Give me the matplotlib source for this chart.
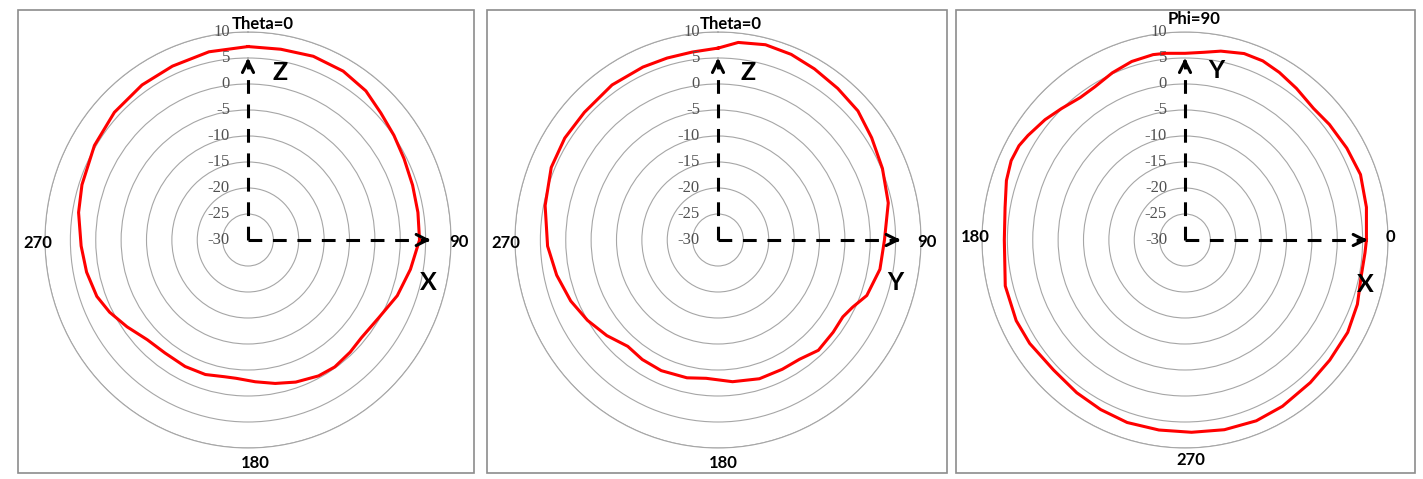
import matplotlib
matplotlib.use("Agg")
import matplotlib.pyplot as plt
from matplotlib.patches import Rectangle
from matplotlib.transforms import offset_copy
import numpy as np

W, H = 1423, 479

r_ticks = [-30, -25, -20, -15, -10, -5, 0, 5, 10]

# XZ面 (Theta=0, 上が0度, 時計回り)
xz_angle = [0, 10, 20, 30, 39, 47, 55, 63, 72, 81, 90, 100, 110, 120, 130, 137,
            145, 152, 161, 169, 177, 185, 190, 198, 207, 217, 226, 235, 243, 250, 259,
            268, 279, 288, 301, 313, 325, 336, 348]
xz_gain = [7.2, 7.25, 7.6, 7.5, 6.9, 5.8, 5.1, 4.5, 4.1, 3.9, 3.8, 2.5, 1.3, -0.2,
           -0.8, -0.5, -0.2, -0.4, -1.1, -1.9, -2.7, -3.3, -3.3, -2.8, -2.7, -2.8, -2.4,
           -0.9, 0.6, 1.7, 2.4, 2.9, 3.8, 4.4, 5.3, 6.0, 6.4, 6.6, 7.0]

# YZ面 (Theta=0)
yz_angle = [0, 6, 14, 22, 30, 39, 48, 57, 67, 78, 90, 100, 110, 116, 121, 128, 137, 145,
            153, 163, 174, 185, 193, 204, 213, 221, 230, 239, 248, 258, 268, 281, 293,
            303, 313, 325, 336, 344, 352]
yz_gain = [6.9, 8.2, 8.7, 8.5, 8.0, 7.5, 7.1, 6.1, 5.2, 4.3, 2.8, 2.4, 1.2, -0.5, -1.3,
           -1.2, -1.0, -2.0, -2.1, -2.1, -2.6, -3.3, -2.8, -2.5, -2.6, -2.9, -1.4, 0.0,
           1.3, 2.5, 3.6, 4.7, 5.7, 6.0, 6.0, 6.4, 6.4, 6.4, 6.5]

# XY面 (Phi=90, 右が0度, 反時計回り)
xy_angle = [0, 10, 20, 29, 38, 45, 53, 60, 66, 72, 79, 84, 90, 96, 100, 107, 114, 121,
            127, 134, 140, 147, 151, 156, 162, 170, 180, 194, 205, 213, 224, 234, 243,
            252, 262, 272, 282, 292, 301, 312, 321, 331, 340, 349, 356]
xy_gain = [5.75, 6.3, 6.8, 6.45, 6.1, 5.8, 6.5, 7.2, 7.7, 7.7, 7.0, 6.3, 5.9, 6.1, 6.2,
           5.9, 5.2, 4.4, 4.3, 5.1, 6.0, 6.9, 7.4, 7.5, 7.0, 6.0, 5.6, 6.5, 6.7, 6.5,
           6.0, 6.3, 6.6, 6.9, 6.9, 7.0, 7.3, 7.5, 7.3, 6.9, 6.7, 6.65, 6.15, 5.4, 5.55]

GRID = '#a6a6a6'
FONT = 'Lato'

fig = plt.figure(figsize=(W / 100, H / 100), dpi=100)

# パネルの枠
for x0, x1 in [(18, 474), (487, 947), (956, 1415)]:
    fig.patches.append(Rectangle((x0 / W, (H - 473) / H), (x1 - x0) / W, 463 / H,
                                 transform=fig.transFigure, fill=False,
                                 ec='#8c8c8c', lw=1.2))


def put(ax, dx, dy, s, **kw):
    # 中心からのピクセルオフセットで文字を置く
    tr = offset_copy(ax.transAxes, fig=fig, x=dx, y=dy, units='dots')
    ax.text(0.5, 0.5, s, transform=tr, ha='center', va='center',
            family=FONT, clip_on=False, **kw)


def polar_panel(cx, zero, direction, angle, gain, cats, axes_txt):
    rx, ry = 203, 208
    ax = fig.add_axes(((cx - rx) / W, (239 - ry) / H, 2 * rx / W, 2 * ry / H),
                      projection='polar')
    ax.set_aspect('auto')
    ax.set_theta_zero_location(zero)
    ax.set_theta_direction(direction)
    ax.set_ylim(-30, 10)
    ax.set_yticks(r_ticks[1:])
    ax.set_yticklabels([])
    ax.set_xticks([])
    ax.grid(True, color=GRID, lw=0.8)
    ax.spines['polar'].set_color(GRID)
    ax.spines['polar'].set_linewidth(0.8)
    ax.patch.set_alpha(0)

    top = 0 if zero == 'N' else np.pi / 2
    right = np.pi / 2 if zero == 'N' else 0

    # 目盛りラベル
    for v in r_ticks:
        ax.annotate(str(v), xy=(top, v), xytext=(-18, 0), textcoords='offset pixels',
                    ha='right', va='center', fontsize=12, color='#505050',
                    family='Liberation Serif', annotation_clip=False)

    # 座標軸の矢印
    for th, tip in [(top, 5), (right, 6)]:
        ax.plot([th, th], [-30, tip - 0.6], color='black', lw=2.2,
                dashes=(4.5, 3.5), solid_capstyle='butt', dash_capstyle='butt')
        ax.annotate('', xy=(th, tip), xytext=(th, tip - 1.2),
                    arrowprops=dict(arrowstyle='->', lw=2.2, color='black',
                                    mutation_scale=20, shrinkA=0, shrinkB=0))

    t = np.deg2rad(np.append(angle, angle[0]))
    g = np.append(gain, gain[0])
    ax.plot(t, g, color='#ff0000', lw=2.2, solid_joinstyle='round')

    for s, dx, dy in cats:
        put(ax, dx, dy, s, fontsize=12, fontweight='bold', color='black')
    for s, dx, dy in axes_txt:
        put(ax, dx, dy, s, fontsize=18, fontweight='bold', color='black')
    return ax


polar_panel(248, 'N', -1, xz_angle, xz_gain,
            [('Theta=0', 15, 216), ('90', 211, -2), ('270', -210, -3), ('180', 7, -223)],
            [('Z', 32, 168), ('X', 180, -43)])
polar_panel(718, 'N', -1, yz_angle, yz_gain,
            [('Theta=0', 13, 216), ('90', 209, -2), ('270', -212, -3), ('180', 5, -223)],
            [('Z', 30, 168), ('Y', 177, -43)])
polar_panel(1185, 'E', 1, xy_angle, xy_gain,
            [('Phi=90', 9, 221), ('0', 205, 3), ('180', -210, 3), ('270', 6, -220)],
            [('Y', 31, 170), ('X', 180, -45)])

fig.savefig('out.png', dpi=100)
